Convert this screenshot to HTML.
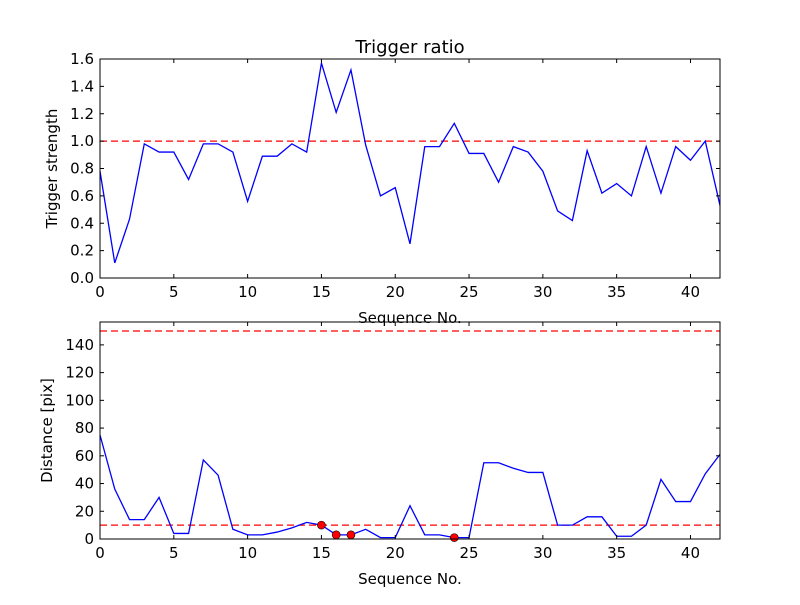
<!DOCTYPE html>
<html><head><meta charset="utf-8"><style>
body{margin:0;background:#fff}
svg text{font-family:"DejaVu Sans","Liberation Sans",sans-serif;fill:#000}
</style></head><body>
<svg id="c" width="800" height="600"></svg>
<script>
const seq = Array.from({length:43},(_,i)=>i);
const ratio = [0.78,0.11,0.43,0.98,0.92,0.92,0.72,0.98,0.98,0.92,0.56,0.89,0.89,0.98,0.92,1.57,1.21,1.52,0.97,0.60,0.66,0.25,0.96,0.96,1.13,0.91,0.91,0.70,0.96,0.92,0.78,0.49,0.42,0.93,0.62,0.69,0.60,0.96,0.62,0.96,0.86,1.00,0.53];
const dist = [75,36,14,14,30,4,4,57,46,7,3,3,5,8,12,10,3,3,7,1,1,24,3,3,1,1,55,55,51,48,48,10,10,16,16,2,2,10,43,27,27,47,61];
const flagged = [15,16,17,24];
const xTicks = [0,5,10,15,20,25,30,35,40];
const topTicks = [0,0.2,0.4,0.6,0.8,1.0,1.2,1.4,1.6];
const botTicks = [0,20,40,60,80,100,120,140];
const ratioThresh = 1.0;
const distThresh = [10,150];

const NS="http://www.w3.org/2000/svg";
const svg=document.getElementById('c');
function el(t,a,p){const e=document.createElementNS(NS,t);for(const k in a)e.setAttribute(k,a[k]);(p||svg).appendChild(e);return e;}
function panel(o){
  const g=el('g',{});
  
  
  const X=v=>o.x0+(v-0)/42*(o.x1-o.x0);
  const Y=v=>o.y1-(v-o.ymin)/(o.ymax-o.ymin)*(o.y1-o.y0);
  o.th.forEach(t=>{const l=el('line',{x1:o.x0,x2:o.x1,y1:Y(t),y2:Y(t),stroke:'#f00','stroke-dasharray':'7,4','stroke-width':1.3},g);
    });
  const p=el('polyline',{points:o.data.map((v,i)=>X(seq[i])+','+Y(v)).join(' '),fill:'none',stroke:'#00f','stroke-width':1.3},g);
  
  (o.dots||[]).forEach(i=>{const c=el('circle',{cx:X(i),cy:Y(o.data[i]),r:4,fill:'#f00',stroke:'#000','stroke-width':0.6},g);
    });
  const f=el('rect',{x:o.x0,y:o.y0,width:o.x1-o.x0,height:o.y1-o.y0,fill:'none',stroke:'#000','stroke-width':1},g);
  
  xTicks.forEach(t=>{const x=X(t);
    el('line',{x1:x,x2:x,y1:o.y1,y2:o.y1-4,stroke:'#000'},g);el('line',{x1:x,x2:x,y1:o.y0,y2:o.y0+4,stroke:'#000'},g);
    const tx=el('text',{x:x,y:o.y1+19,'text-anchor':'middle','font-size':15},g);tx.textContent=t;
    });
  o.ticks.forEach(t=>{const y=Y(t);
    el('line',{x1:o.x0,x2:o.x0+4,y1:y,y2:y,stroke:'#000'},g);el('line',{x1:o.x1,x2:o.x1-4,y1:y,y2:y,stroke:'#000'},g);
    const tx=el('text',{x:o.x0-6,y:y+5,'text-anchor':'end','font-size':15},g);tx.textContent=o.fmt(t);
    });
  const xl=el('text',{x:(o.x0+o.x1)/2,y:o.y1+45,'text-anchor':'middle','font-size':15},g);xl.textContent='Sequence No.';
  
  const yc=(o.y0+o.y1)/2;
  const yl=el('text',{x:o.ylx,y:yc,'text-anchor':'middle','font-size':15,transform:`rotate(-90 ${o.ylx} ${yc})`},g);yl.textContent=o.ylabel;
  
}
panel({name:'trigger-ratio-panel',x0:100,x1:720,y0:59,y1:278,ymin:0,ymax:1.6,data:ratio,th:[ratioThresh],ticks:topTicks,fmt:v=>v.toFixed(1),ylabel:'Trigger strength',ylx:57});
panel({name:'distance-panel',x0:100,x1:720,y0:322,y1:539,ymin:0,ymax:156.5,data:dist,th:distThresh,ticks:botTicks,fmt:v=>String(v),ylabel:'Distance [pix]',ylx:52,dots:flagged});
const t=el('text',{x:410,y:53,'text-anchor':'middle','font-size':18});t.textContent='Trigger ratio';

</script>
</body></html>
